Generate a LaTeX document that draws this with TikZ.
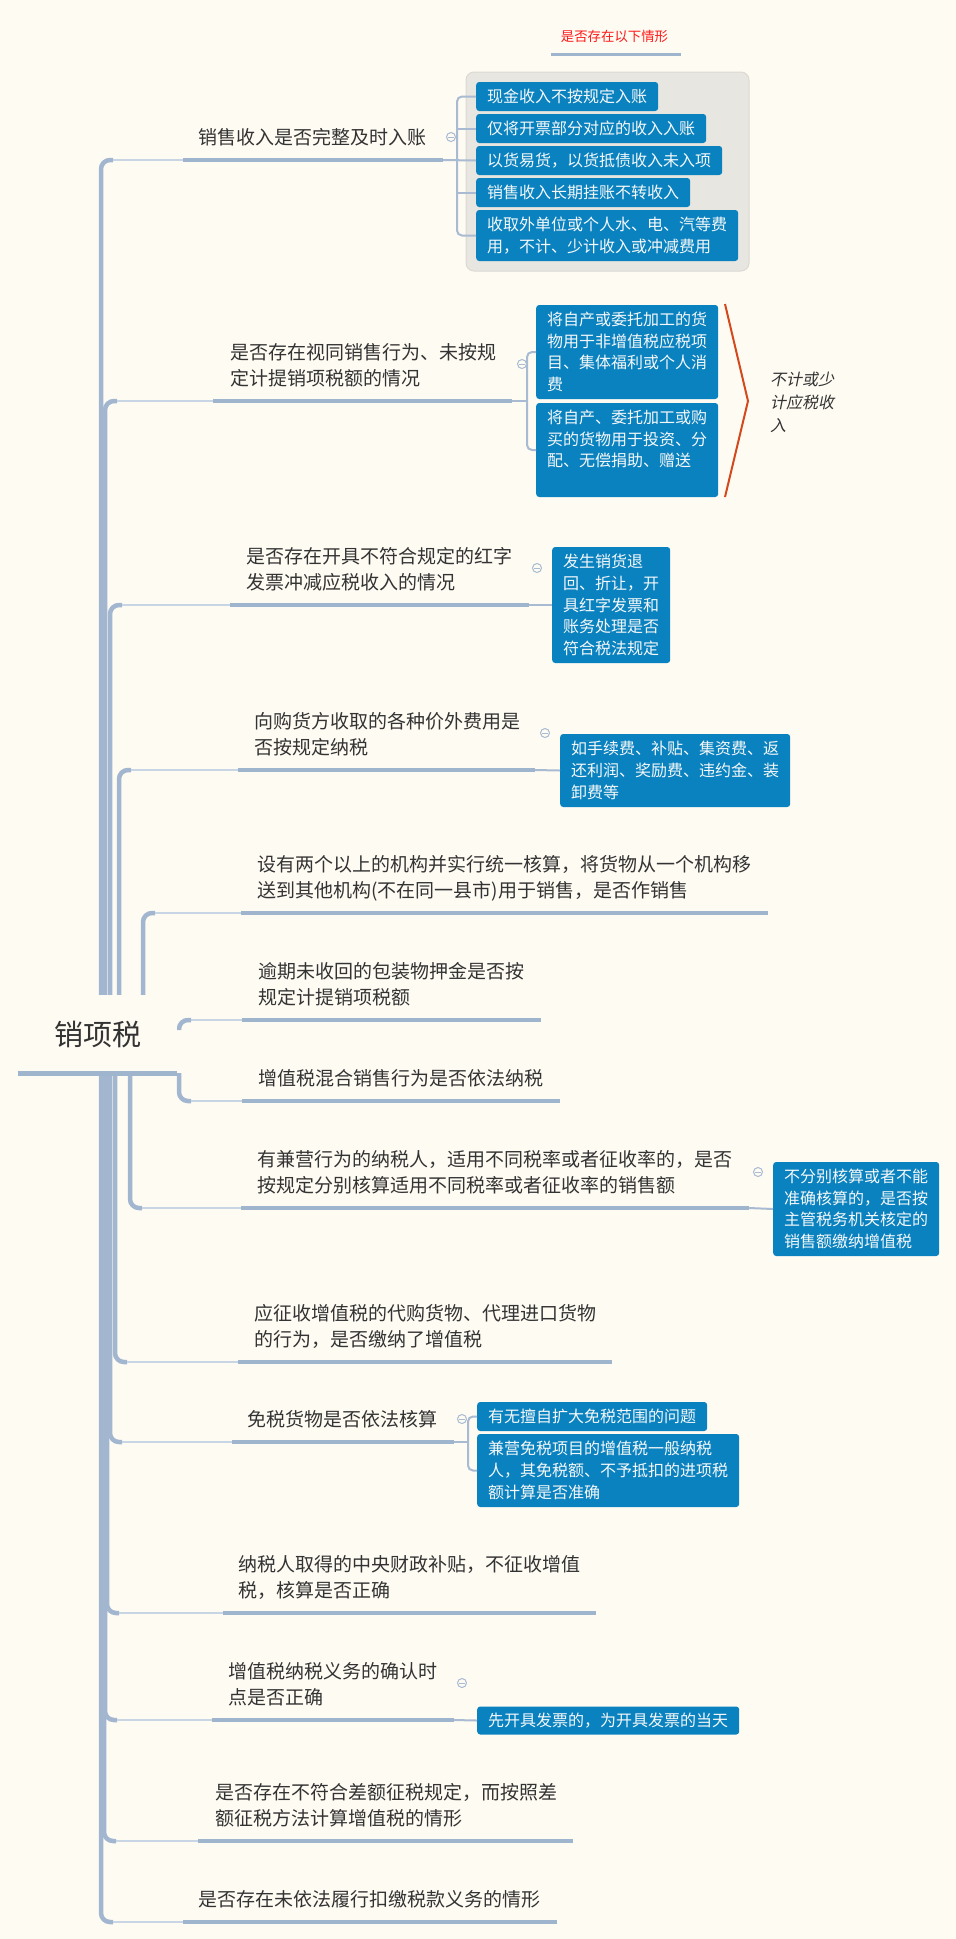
\documentclass[tikz,border=0pt]{standalone}
\usepackage{fontspec}
\setmainfont{Noto Sans CJK SC}
\newfontfamily\cjkit[FakeSlant=0.2]{Noto Sans CJK SC}
\usetikzlibrary{calc}
\pgfdeclarelayer{back}
\pgfdeclarelayer{conn}
\pgfsetlayers{back,conn,main}
\definecolor{bgc}{HTML}{FEFBF3}
\definecolor{txtc}{HTML}{333333}
\definecolor{linec}{HTML}{A2B6CF}
\definecolor{lightc}{HTML}{C8D5E4}
\definecolor{ulc}{HTML}{9FB4CD}
\definecolor{subc}{HTML}{A8BBD2}
\definecolor{boxc}{HTML}{0A82BF}
\definecolor{boxtxt}{HTML}{F5F8FA}
\definecolor{bndc}{HTML}{E8E6E0}
\definecolor{bndline}{HTML}{DCD9D2}
\definecolor{sumc}{HTML}{D4491B}
\definecolor{redc}{HTML}{FF1A1A}
\begin{document}
\begin{tikzpicture}[x=1pt,y=-1pt,
  vconn/.style={draw=linec, line width=4.5, rounded corners=9},
  hconn/.style={draw=lightc, line width=2.5},
  uline/.style={draw=ulc, line width=4.5},
  sub/.style={draw=subc, line width=2, rounded corners=5},
  topic/.style={anchor=south west, inner sep=0, align=left, text=txtc,
    font=\fontsize{19}{26}\selectfont, execute at end node=\strut},
  box/.style={fill=boxc, text=boxtxt, rounded corners=3, inner xsep=11, inner ysep=2,
    align=left, anchor=west, font=\fontsize{16}{21.7}\selectfont},
  marker/.style={circle, draw=subc, line width=1, fill=bgc, minimum size=9, inner sep=0,
    path picture={\draw[subc, line width=0.9] ([xshift=-2.6pt]path picture bounding box.center) -- ([xshift=2.6pt]path picture bounding box.center);}}
]
\useasboundingbox (0,0) rectangle (956,1939);
\begin{pgfonlayer}{back}
\fill[bgc] (0,0) rectangle (956,1939);
\end{pgfonlayer}

% root
\node[font=\fontsize{29}{34}\selectfont, minimum width=159, minimum height=78, fill=bgc, inner sep=0, text=txtc] (root) at (97.5,1034) {销项税};
\draw[uline, line width=5] (root.south west) -- (root.south east);

% branch geometry: index / vertical x / underline y / underline start / underline end
\foreach \i/\xv/\yt/\xs/\xe in {1/101/160/183/443, 2/105/401/213/512, 3/110/605/230/529,
  4/119/770/238/535, 5/143/913/241/768, 6/179/1020/242/541, 7/179/1101/242/560,
  8/130/1208/241/749, 9/115/1362/238/612, 10/110/1442/232/454, 11/107/1613/223/596,
  12/105/1720/212/454, 13/104/1841/198/573, 14/101/1922/183/557}{
  \coordinate (v\i) at (\xv,\yt);
  \coordinate (s\i) at (\xs,\yt);
  \coordinate (e\i) at (\xe,\yt);
}

\begin{pgfonlayer}{conn}
\foreach \i in {1,2,3,4,5,8,9,10,11,12,13,14}{
  \draw[vconn] (root.center -| v\i) -- (v\i) -- ($(v\i)+(12,0)$);
}
\draw[vconn] ($(v6)+(0,10)$) -- (v6) -- ($(v6)+(12,0)$);
\draw[vconn] (root.south east -| v7) -- (v7) -- ($(v7)+(12,0)$);
\foreach \i in {1,...,14}{
  \draw[hconn] ($(v\i)+(12,0)$) -- (s\i);
}
\end{pgfonlayer}
\foreach \i in {1,...,14}{ \draw[uline] (s\i) -- (e\i); }

% topics
\node[topic] (t1) at (198,152) {销售收入是否完整及时入账};
\node[topic] (t2) at (230,393) {是否存在视同销售行为、未按规\\定计提销项税额的情况};
\node[topic] (t3) at (246,597) {是否存在开具不符合规定的红字\\发票冲减应税收入的情况};
\node[topic] (t4) at (254,762) {向购货方收取的各种价外费用是\\否按规定纳税};
\node[topic] (t5) at (257,905) {设有两个以上的机构并实行统一核算，将货物从一个机构移\\送到其他机构(不在同一县市)用于销售，是否作销售};
\node[topic] (t6) at (258,1012) {逾期未收回的包装物押金是否按\\规定计提销项税额};
\node[topic] (t7) at (258,1093) {增值税混合销售行为是否依法纳税};
\node[topic] (t8) at (257,1200) {有兼营行为的纳税人，适用不同税率或者征收率的，是否\\按规定分别核算适用不同税率或者征收率的销售额};
\node[topic] (t9) at (254,1354) {应征收增值税的代购货物、代理进口货物\\的行为，是否缴纳了增值税};
\node[topic] (t10) at (247,1434) {免税货物是否依法核算};
\node[topic] (t11) at (238,1605) {纳税人取得的中央财政补贴，不征收增值\\税，核算是否正确};
\node[topic] (t12) at (228,1712) {增值税纳税义务的确认时\\点是否正确};
\node[topic] (t13) at (215,1833) {是否存在不符合差额征税规定，而按照差\\额征税方法计算增值税的情形};
\node[topic] (t14) at (198,1914) {是否存在未依法履行扣缴税款义务的情形};

% label above boundary
\node[font=\fontsize{13.4}{16}\selectfont, text=redc, inner sep=0] (lbl) at (614.5,36) {是否存在以下情形};
\draw[ulc, line width=3] (551,54) -- (681,54);

% boundary around branch 1 subtopics
\draw[draw=bndline, fill=bndc, line width=1, rounded corners=8] (466,72) rectangle (749,271);

% subtopic boxes
\node[box, minimum height=29] (b1a) at (476,96.5) {现金收入不按规定入账};
\node[box, minimum height=29] (b1b) at (476,128.5) {仅将开票部分对应的收入入账};
\node[box, minimum height=29] (b1c) at (476,160.5) {以货易货，以货抵债收入未入项};
\node[box, minimum height=29] (b1d) at (476,192.5) {销售收入长期挂账不转收入};
\node[box, minimum height=51] (b1e) at (476,235.5) {收取外单位或个人水、电、汽等费\\用，不计、少计收入或冲减费用};

\node[box, minimum height=94] (b2a) at (536,352) {将自产或委托加工的货\\物用于非增值税应税项\\目、集体福利或个人消\\费};
\node[box, minimum height=94] (b2b) at (536,450) {将自产、委托加工或购\\买的货物用于投资、分\\配、无偿捐助、赠送\\\vphantom{配}};

\node[box, minimum height=116] (b3) at (552,605) {发生销货退\\回、折让，开\\具红字发票和\\账务处理是否\\符合税法规定};
\node[box, minimum height=73] (b4) at (560,770.5) {如手续费、补贴、集资费、返\\还利润、奖励费、违约金、装\\卸费等};
\node[box, minimum height=94] (b8) at (773,1209) {不分别核算或者不能\\准确核算的，是否按\\主管税务机关核定的\\销售额缴纳增值税};
\node[box, minimum height=29] (b10a) at (477,1416.5) {有无擅自扩大免税范围的问题};
\node[box, minimum height=73] (b10b) at (477,1470.5) {兼营免税项目的增值税一般纳税\\人，其免税额、不予抵扣的进项税\\额计算是否准确};
\node[box, minimum height=28] (b12) at (477,1720.5) {先开具发票的，为开具发票的当天};

% subtopic connectors
\draw[sub] (e1) -- (b1c.west);
\draw[sub] (b1a.west) -- ++(-19,0) |- (b1e.west);
\draw[sub] (b1b.west) -- ++(-19,0);
\draw[sub] (b1d.west) -- ++(-19,0);
\draw[sub] (e2) -- ++(15,0);
\draw[sub] (b2a.west) -- ++(-9,0) |- (b2b.west);
\draw[sub] (e3) -- (b3.west);
\draw[sub] (e4) -- (b4.west);
\draw[sub] (e8) -- (b8.west);
\draw[sub] (e10) -- ++(14,0);
\draw[sub] (b10a.west) -- ++(-9,0) |- (b10b.west);
\draw[sub] (e12) -- (b12.west);

% collapse markers
\node[marker] (m1) at (451,137) {};
\node[marker] (m2) at (522,364) {};
\node[marker] (m3) at (537,568) {};
\node[marker] (m4) at (545,733) {};
\node[marker] (m8) at (758,1172) {};
\node[marker] (m10) at (462,1419) {};
\node[marker] (m12) at (462,1683) {};

% summary
\coordinate (sa) at (725,304);
\coordinate (sm) at (748,401);
\coordinate (sb) at (725,497);
\draw[sumc, line width=2] (sa) -- (sm) -- (sb);
\node[font=\cjkit\fontsize{16}{23}\selectfont, align=left, anchor=west, inner sep=0, text=txtc] (sum) at (770,402) {不计或少\\计应税收\\入};
\end{tikzpicture}
\end{document}
